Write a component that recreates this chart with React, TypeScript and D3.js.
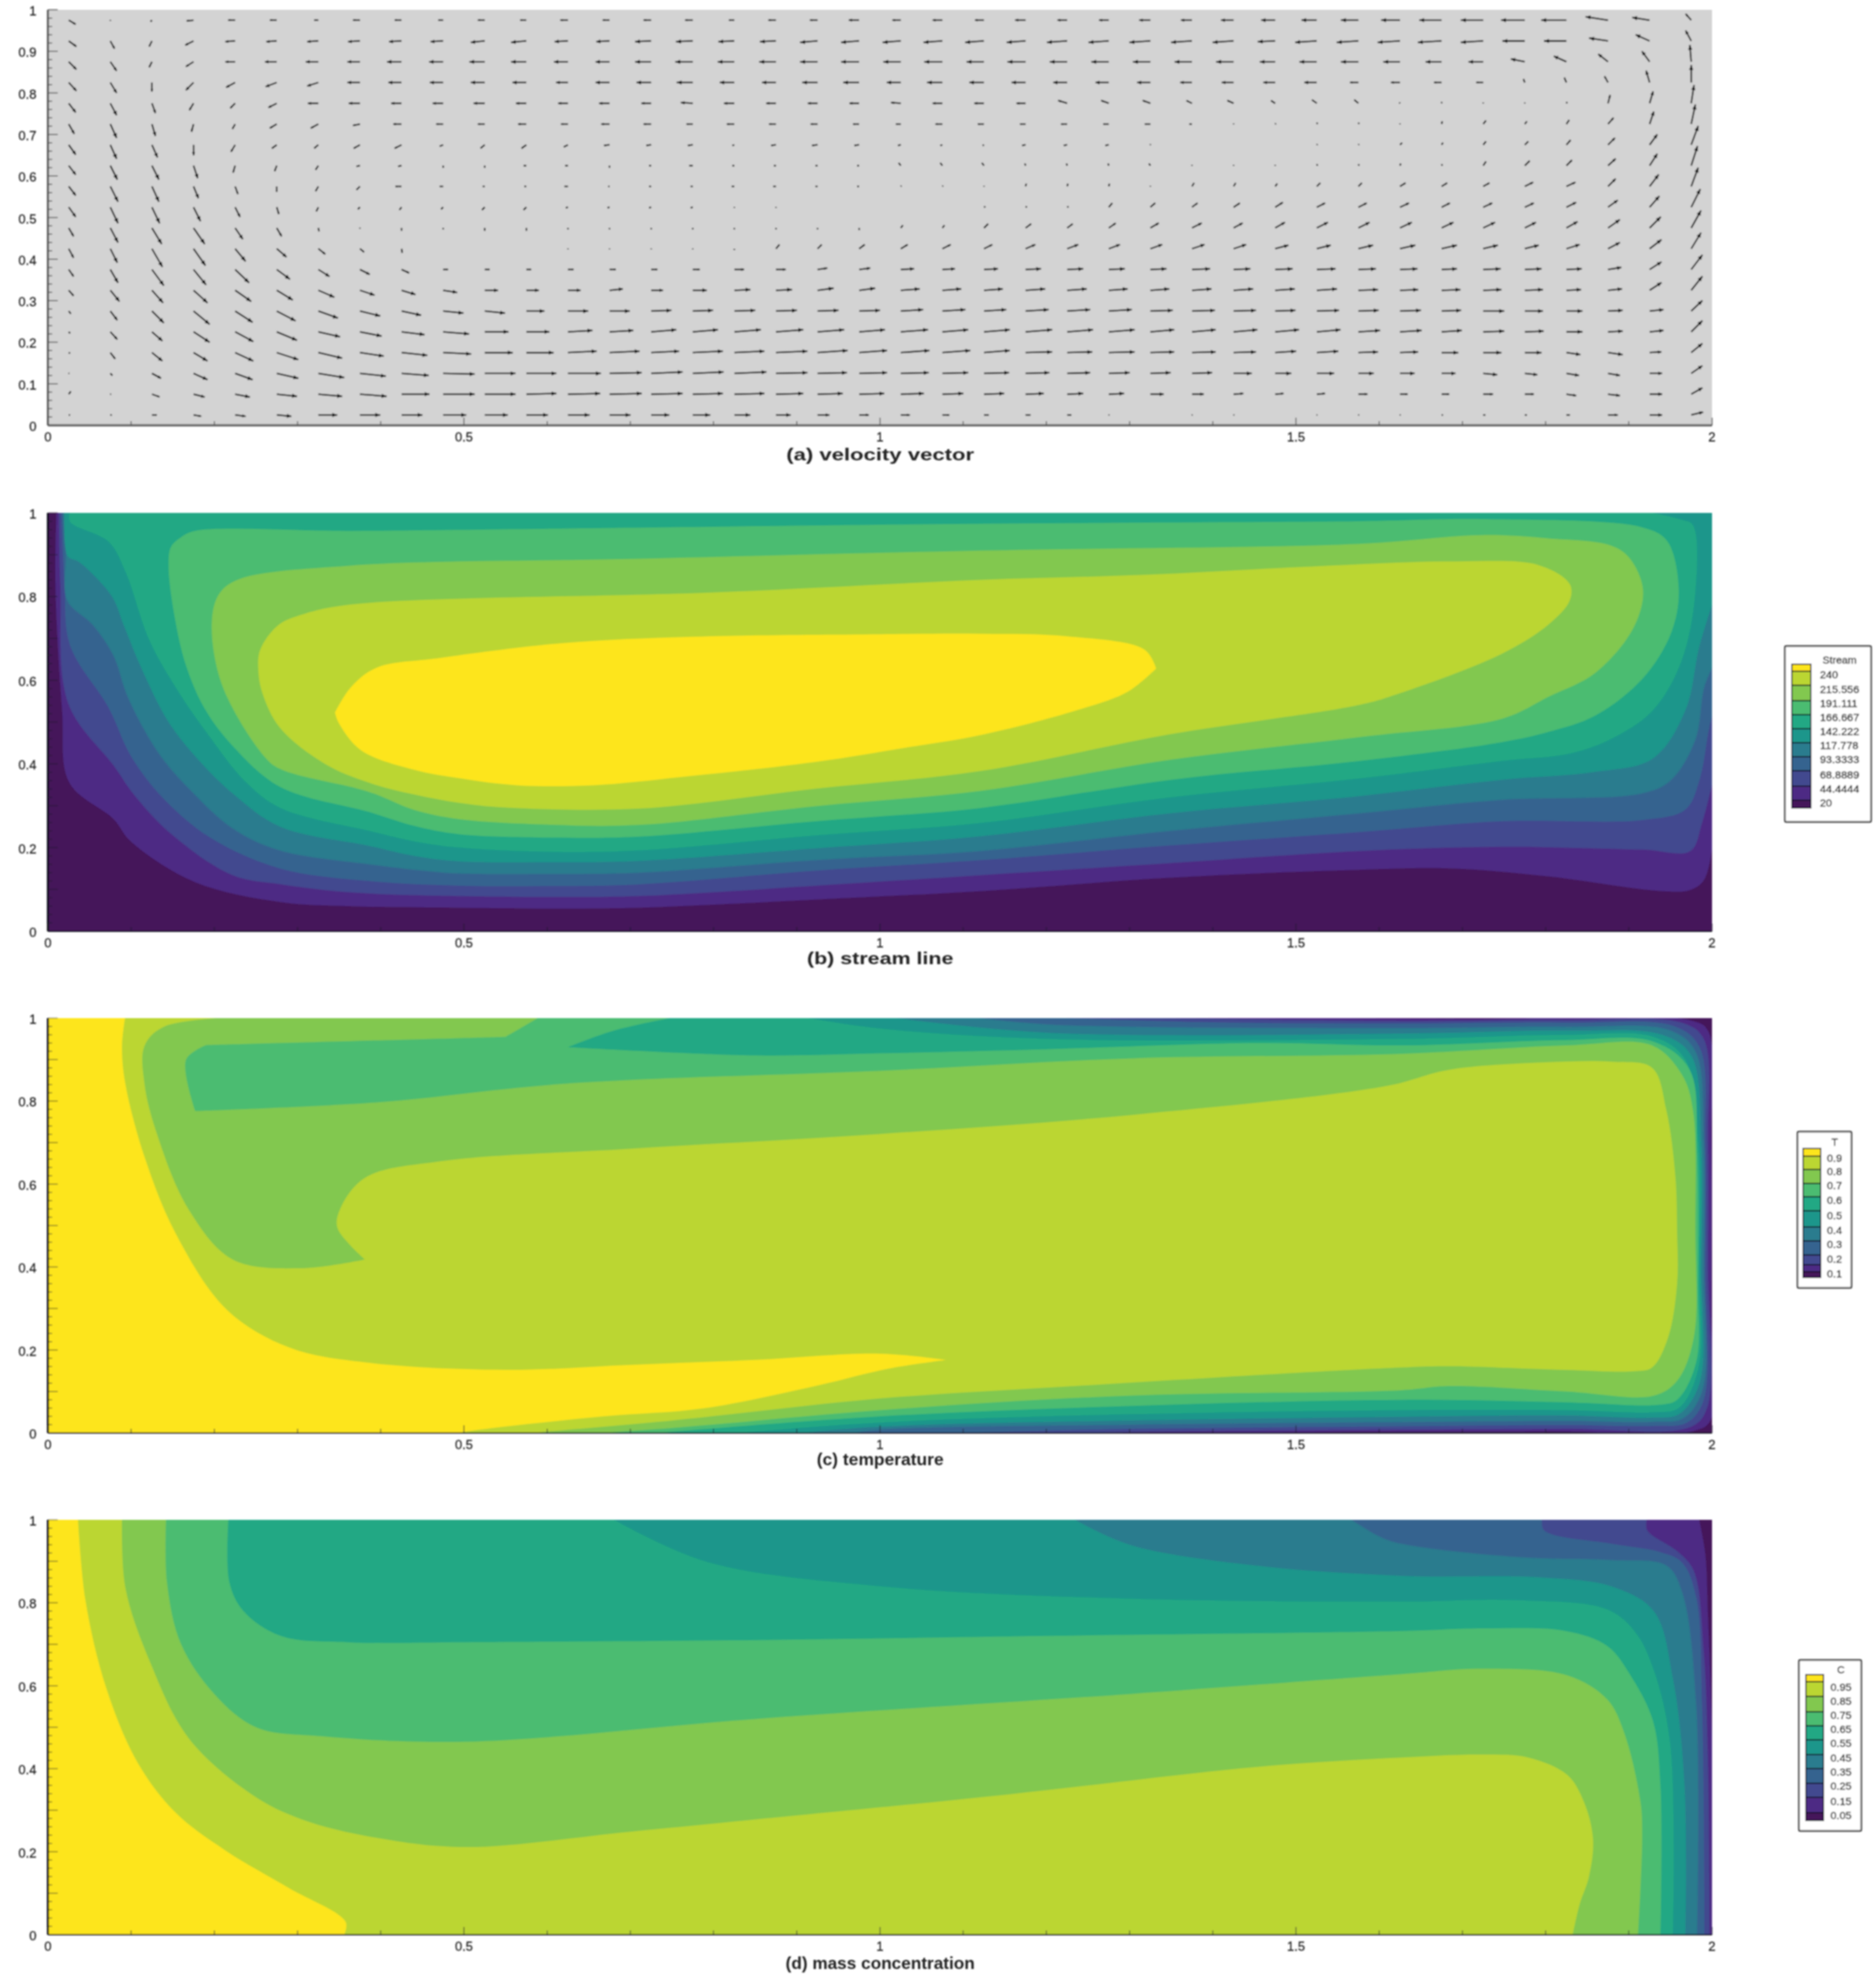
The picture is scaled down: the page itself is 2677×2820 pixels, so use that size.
import React from "react";
import * as d3 from "d3";

type P = [number, number];

const WIDTH = 2677;
const HEIGHT = 2820;

const bandColors = ["#45155a", "#4d2b84", "#42488f", "#36648f", "#2a7c8e", "#1f968b", "#20a884", "#4cbc71", "#82c84f", "#bbd633", "#fde51e"];

const xTickLabels = [0, 0.5, 1, 1.5, 2];
const yTicksDense = [0, 0.1, 0.2, 0.3, 0.4, 0.5, 0.6, 0.7, 0.8, 0.9, 1];
const yTicksSparse = [0, 0.2, 0.4, 0.6, 0.8, 1];

const streamLegend = ["240", "215.556", "191.111", "166.667", "142.222", "117.778", "93.3333", "68.8889", "44.4444", "20"];
const tempLegend = ["0.9", "0.8", "0.7", "0.6", "0.5", "0.4", "0.3", "0.2", "0.1"];
const concLegend = ["0.95", "0.85", "0.75", "0.65", "0.55", "0.45", "0.35", "0.25", "0.15", "0.05"];

// (a) velocity vectors: 20 rows (top to bottom) x 40 columns
const uRows: number[][] = [
  [10,0,-2,-10,-10,-10,-6,-10,-10,-7,-10,-9,-11,-10,-11,-11,-8,-11,-11,-15,-12,-14,-13,-15,-14,-14,-16,-16,-18,-20,-22,-25,-27,-32,-32,-34,-36,-32,-25,-8],
  [11,6,-4,-12,-14,-15,-16,-17,-18,-18,-20,-22,-19,-19,-23,-24,-23,-23,-25,-26,-26,-27,-27,-27,-29,-29,-30,-30,-30,-25,-31,-31,-32,-34,-32,-32,-32,-27,-20,-8],
  [11,9,-4,-11,-14,-17,-18,-18,-21,-20,-22,-22,-20,-20,-23,-25,-24,-24,-25,-26,-25,-26,-25,-26,-25,-25,-25,-25,-25,-22,-25,-25,-24,-23,-21,-20,-18,-14,-11,-2],
  [11,9,0,-11,-13,-16,-16,-18,-19,-19,-20,-20,-17,-20,-21,-23,-21,-20,-22,-23,-20,-22,-21,-20,-20,-19,-19,-17,-17,-17,-18,-12,-13,-11,-10,-2,-3,-5,-5,0],
  [10,9,5,-6,-7,-12,-15,-16,-15,-15,-16,-15,-14,-15,-14,-17,-15,-14,-14,-14,-14,-14,-14,-13,-13,-11,-11,-8,-9,-6,-7,-6,-1,0,0,0,1,3,5,4],
  [8,9,5,-3,-4,-10,-11,-10,-12,-10,-10,-12,-10,-12,-11,-9,-11,-10,-10,-9,-7,-10,-9,-8,-9,-8,-8,-4,0,1,1,1,0,1,4,3,4,8,6,6],
  [10,9,8,0,-6,-7,-6,-9,-10,-5,-6,-7,-6,-8,-7,-7,-3,-7,-8,-7,-4,-3,-2,-5,-5,-5,0,0,0,0,1,1,3,2,4,5,6,10,11,10],
  [10,10,10,6,-3,-3,-4,-5,-5,0,0,-4,-4,0,-3,-5,-3,-3,-3,-3,-3,-3,-3,-1,-1,-1,-2,0,0,0,1,1,1,1,4,7,8,11,11,9],
  [10,11,10,7,4,0,-4,-5,-9,-5,-3,-3,-5,-2,-3,-3,-4,-4,-3,-3,1,1,0,1,1,1,0,3,3,3,5,5,8,8,9,12,13,11,13,10],
  [10,11,11,10,7,3,-3,-3,-3,-3,-4,-4,-3,-3,-3,-3,0,0,0,0,0,0,2,2,2,5,7,8,9,11,12,12,13,12,13,13,14,14,14,13],
  [7,11,14,16,11,7,1,0,0,0,0,0,0,0,0,0,0,0,0,0,3,3,6,8,8,10,12,14,13,14,16,16,17,17,17,16,16,17,16,14],
  [7,10,15,17,15,14,10,6,1,0,0,0,0,0,0,0,0,5,6,8,10,12,12,14,16,16,17,18,18,19,20,21,22,22,21,20,19,17,17,14],
  [7,11,17,18,20,19,16,14,11,7,7,7,8,9,9,10,14,14,14,16,19,18,20,22,23,23,23,26,24,25,27,25,25,22,25,24,22,19,17,16],
  [7,13,16,20,23,23,23,21,20,20,19,18,18,19,17,20,23,23,23,23,27,27,27,28,28,27,27,28,28,28,29,28,26,27,26,26,21,20,17,16],
  [3,10,17,23,25,27,28,29,28,29,29,26,29,29,29,29,30,30,30,30,32,33,32,33,33,33,32,33,32,29,32,29,30,28,30,26,23,21,20,16],
  [2,10,15,23,26,29,31,31,33,37,34,33,35,34,36,36,38,39,38,37,39,37,37,38,37,37,34,34,34,34,34,31,31,29,30,27,23,21,20,16],
  [2,7,15,20,26,31,34,34,37,40,40,39,41,43,40,43,43,45,43,40,41,40,37,38,36,37,34,34,32,30,31,28,26,24,26,24,20,21,17,16],
  [1,3,13,20,25,31,37,37,39,45,44,43,47,46,45,44,46,45,42,40,40,37,36,34,33,30,29,29,26,23,25,22,21,20,20,18,18,17,18,16],
  [3,1,11,16,21,29,34,38,40,45,44,43,46,46,45,43,43,39,36,36,33,30,29,26,23,22,19,17,14,12,12,13,11,11,14,13,14,17,18,16],
  [2,2,7,11,15,21,27,29,30,33,33,31,31,30,26,25,23,21,17,14,13,10,7,7,6,1,0,1,1,0,1,1,1,2,3,3,5,14,18,17],
];
const vRows: number[][] = [
  [-6,-1,-2,-1,0,0,0,0,0,0,0,0,0,0,0,0,0,0,0,0,0,0,0,0,0,0,0,0,0,0,0,0,0,0,0,0,0,5,4,9],
  [-8,-11,-8,-6,-1,-1,-1,-1,-1,-1,-2,-2,-1,-1,-1,-1,-1,-1,-2,-2,-2,-2,-2,-2,-2,-2,-2,-2,-2,-1,-2,-2,-2,-2,-2,0,0,4,9,15],
  [-11,-13,-8,-7,0,0,0,0,0,0,0,0,0,0,0,0,0,0,0,0,0,0,0,0,0,0,0,0,0,0,0,0,0,0,0,4,8,11,15,24],
  [-12,-15,-13,-11,-7,-6,-5,0,0,0,0,0,0,0,0,0,0,0,0,0,0,0,0,0,0,0,0,0,0,0,0,0,0,0,0,5,7,9,17,25],
  [-13,-17,-14,-10,-7,-6,0,0,0,0,0,0,0,0,0,1,0,0,0,0,1,0,0,0,4,4,4,4,4,4,5,5,1,2,1,1,2,12,17,26],
  [-14,-20,-17,-11,-7,-6,-6,-2,0,0,0,0,0,0,0,0,0,0,0,0,0,0,0,0,0,0,0,0,1,1,2,2,1,4,5,4,6,9,18,28],
  [-14,-20,-18,-15,-10,-5,-5,-5,-5,-2,-5,-5,-3,-1,-1,-1,-1,-1,-1,-1,-1,-1,-1,-1,-1,-1,1,0,0,0,1,1,3,3,5,5,7,10,15,27],
  [-13,-20,-20,-18,-10,-8,-6,-1,-1,-3,-3,0,0,-3,0,0,0,0,0,0,4,4,4,3,3,3,3,1,1,1,2,2,3,2,6,7,8,10,17,28],
  [-13,-22,-22,-17,-11,-8,-7,-5,0,0,0,0,0,0,0,0,0,0,0,0,1,1,1,4,4,4,1,5,5,4,5,5,5,5,5,6,6,11,17,27],
  [-14,-23,-23,-20,-14,-10,-6,-3,-4,-3,-4,-4,-1,-1,-1,-1,-1,-1,0,0,0,0,1,1,1,6,6,6,6,7,6,6,6,6,6,6,7,10,16,26],
  [-12,-21,-23,-23,-16,-12,-5,-1,-4,-2,-4,-4,-2,-2,-2,-2,-2,-2,-2,-3,4,4,6,6,6,7,7,7,7,8,8,8,8,8,8,8,9,12,16,25],
  [-13,-20,-26,-24,-18,-12,-8,-5,-6,0,0,0,-1,-1,-1,-1,-2,6,6,6,6,6,6,6,6,6,6,6,6,5,5,5,5,5,5,5,6,9,13,23],
  [-10,-19,-23,-22,-19,-14,-10,-7,-5,0,0,0,0,0,0,0,0,0,2,2,1,1,1,1,1,1,1,1,1,1,1,1,1,1,1,1,1,3,11,21],
  [-8,-16,-18,-18,-16,-14,-10,-7,-6,-3,0,0,0,2,0,0,1,1,3,3,2,2,2,2,2,2,2,2,2,2,2,1,1,1,1,1,1,2,11,20],
  [-4,-13,-17,-19,-16,-14,-10,-7,-6,-3,-3,0,0,0,1,1,1,1,1,1,2,2,2,2,2,2,1,1,1,1,1,1,1,1,0,0,0,1,2,15],
  [-2,-11,-13,-15,-14,-12,-7,-6,-4,-3,0,0,2,2,3,3,3,3,3,3,3,3,3,3,3,3,3,3,3,3,3,2,2,2,1,1,0,1,2,16],
  [-1,-9,-12,-12,-12,-10,-8,-5,-4,-2,0,0,2,2,2,2,2,2,3,3,3,3,3,1,1,1,1,1,1,2,2,1,1,0,0,0,-3,-3,1,13],
  [0,-3,-7,-9,-9,-7,-6,-4,-3,-1,0,0,0,1,2,2,2,1,1,1,1,1,1,1,1,1,1,1,0,0,0,0,0,0,-2,-2,-3,-3,0,11],
  [4,0,-4,-4,-4,-3,-3,-3,0,0,0,1,1,1,1,1,1,1,1,1,1,1,1,1,1,1,0,0,1,1,1,0,0,0,0,0,-2,-2,0,9],
  [0,0,0,-2,-2,-2,0,0,0,0,0,0,0,0,0,0,0,0,0,0,0,0,0,0,0,0,0,0,0,0,0,0,0,0,0,0,0,0,0,4],
];

// (b) stream function contours, lowest level first
const streamL1: P[] = [[0.0104,1],[0.009,0.83],[0.017,0.53],[0.0258,0.355],[0.079,0.268],[0.099,0.216],[0.175,0.119],[0.279,0.07],[0.364,0.06],[0.494,0.056],[0.6,0.054],[0.709,0.056],[0.923,0.076],[1.121,0.096],[1.349,0.128],[1.576,0.147],[1.69,0.15],[1.804,0.131],[1.94,0.096],[1.974,0.099],[1.991,0.125],[2,0.28],[2,1]];
const streamL2: P[] = [[0.0132,1],[0.015,0.83],[0.0244,0.545],[0.079,0.396],[0.104,0.325],[0.149,0.231],[0.222,0.134],[0.281,0.112],[0.364,0.093],[0.494,0.084],[0.6,0.082],[0.709,0.084],[0.923,0.109],[1.121,0.134],[1.349,0.163],[1.576,0.192],[1.747,0.202],[1.917,0.195],[1.974,0.192],[1.988,0.259],[2,0.394],[2,1]];
const streamL3: P[] = [[0.016,1],[0.02,0.83],[0.0265,0.684],[0.073,0.534],[0.1,0.418],[0.139,0.317],[0.195,0.224],[0.279,0.15],[0.386,0.12],[0.494,0.109],[0.6,0.108],[0.709,0.112],[0.923,0.145],[1.121,0.17],[1.349,0.205],[1.576,0.237],[1.747,0.263],[1.917,0.266],[1.968,0.291],[1.985,0.362],[1.997,0.49],[2,0.55],[2,1]];
const streamL4: P[] = [[0.018,1],[0.0216,0.904],[0.023,0.792],[0.054,0.732],[0.079,0.658],[0.096,0.56],[0.133,0.426],[0.172,0.336],[0.222,0.246],[0.279,0.193],[0.386,0.16],[0.44,0.147],[0.494,0.138],[0.6,0.137],[0.709,0.14],[0.923,0.17],[1.121,0.192],[1.349,0.24],[1.576,0.282],[1.747,0.314],[1.917,0.33],[1.951,0.362],[1.98,0.458],[1.991,0.586],[2,0.65],[2,1]];
const streamL5: P[] = [[0.02,1],[0.0238,0.897],[0.038,0.882],[0.077,0.8],[0.091,0.732],[0.111,0.635],[0.145,0.5],[0.184,0.403],[0.223,0.328],[0.279,0.25],[0.386,0.204],[0.44,0.18],[0.494,0.167],[0.6,0.165],[0.709,0.168],[0.923,0.198],[1.121,0.227],[1.349,0.282],[1.576,0.323],[1.747,0.362],[1.86,0.381],[1.929,0.413],[1.968,0.528],[1.985,0.682],[2,0.811],[2,1]];
const streamL6: P[] = [[0.0265,1],[0.0265,0.979],[0.073,0.931],[0.093,0.86],[0.122,0.695],[0.156,0.575],[0.195,0.463],[0.237,0.358],[0.279,0.295],[0.386,0.24],[0.44,0.215],[0.494,0.2],[0.6,0.19],[0.709,0.193],[0.923,0.229],[1.121,0.259],[1.349,0.32],[1.576,0.365],[1.747,0.407],[1.832,0.426],[1.883,0.464],[1.929,0.528],[1.963,0.644],[1.98,0.811],[1.977,0.971],[1.963,0.984],[1.917,1]];
const streamL7: P[] = [[0.177,0.957],[0.16,0.942],[0.148,0.919],[0.145,0.874],[0.152,0.755],[0.166,0.635],[0.189,0.53],[0.223,0.441],[0.279,0.345],[0.386,0.285],[0.44,0.252],[0.494,0.232],[0.6,0.224],[0.709,0.226],[0.923,0.263],[1.122,0.295],[1.349,0.362],[1.576,0.407],[1.747,0.452],[1.804,0.477],[1.86,0.516],[1.917,0.605],[1.951,0.714],[1.96,0.817],[1.946,0.933],[1.917,0.965],[1.73,0.985],[1.576,0.98],[1.122,0.974],[0.6,0.962],[0.364,0.957]];
const streamL8: P[] = [[0.229,0.841],[0.206,0.807],[0.197,0.74],[0.209,0.59],[0.26,0.418],[0.279,0.388],[0.386,0.333],[0.44,0.29],[0.494,0.268],[0.6,0.255],[0.709,0.254],[0.923,0.299],[1.122,0.336],[1.349,0.41],[1.576,0.464],[1.749,0.509],[1.804,0.561],[1.86,0.618],[1.906,0.727],[1.917,0.817],[1.9,0.894],[1.877,0.923],[1.804,0.939],[1.724,0.947],[1.576,0.926],[1.122,0.91],[0.7,0.89],[0.364,0.874]];
const streamL9: P[] = [[0.277,0.732],[0.255,0.672],[0.253,0.62],[0.258,0.568],[0.279,0.486],[0.333,0.4],[0.386,0.355],[0.44,0.327],[0.494,0.307],[0.548,0.296],[0.709,0.293],[0.923,0.341],[1.121,0.383],[1.349,0.471],[1.576,0.541],[1.622,0.567],[1.747,0.663],[1.804,0.734],[1.829,0.791],[1.829,0.83],[1.792,0.875],[1.69,0.884],[1.52,0.872],[1.32,0.852],[1.122,0.84],[0.8,0.81],[0.364,0.781],[0.307,0.758]];
const streamL10: P[] = [[0.345,0.523],[0.345,0.523],[0.364,0.583],[0.395,0.63],[0.47,0.653],[0.62,0.689],[0.775,0.704],[1.0,0.71],[1.122,0.711],[1.224,0.705],[1.318,0.673],[1.332,0.628],[1.332,0.628],[1.298,0.573],[1.236,0.528],[1.121,0.469],[1.031,0.439],[0.923,0.405],[0.762,0.369],[0.655,0.349],[0.564,0.349],[0.494,0.366],[0.44,0.386],[0.376,0.433],[0.349,0.5]];
const streamContours = [streamL1, streamL2, streamL3, streamL4, streamL5, streamL6, streamL7, streamL8, streamL9, streamL10];

// (c) temperature contours, lowest level first
const tempL1: P[] = [[0,1],[1.23,1],[1.7,0.998],[1.975,0.994],[1.995,0.97],[1.999,0.7],[1.999,0.3],[1.998,0.03],[1.98,0.006],[1.8,0.004],[1.5,0.002],[1.2,0],[0,0]];
const tempL2: P[] = [[0,1],[1.18,1],[1.627,0.993],[1.824,0.995],[1.965,0.988],[1.99,0.95],[1.995,0.7],[1.995,0.4],[1.994,0.06],[1.975,0.015],[1.824,0.01],[1.627,0.008],[1.3,0.003],[1.1,0],[0,0]];
const tempL3: P[] = [[0,1],[1.15,1],[1.4,0.99],[1.627,0.987],[1.824,0.989],[1.955,0.98],[1.985,0.93],[1.992,0.7],[1.992,0.4],[1.99,0.08],[1.97,0.025],[1.93,0.017],[1.824,0.019],[1.627,0.016],[1.3,0.01],[1,0],[0,0]];
const tempL4: P[] = [[0,1],[1.1,1],[1.2,0.985],[1.627,0.976],[1.824,0.979],[1.95,0.97],[1.98,0.92],[1.99,0.7],[1.99,0.4],[1.988,0.1],[1.965,0.035],[1.93,0.027],[1.824,0.029],[1.627,0.026],[1.3,0.02],[1,0.008],[0.95,0],[0,0]];
const tempL5: P[] = [[0,1],[1,1],[1.2,0.965],[1.627,0.963],[1.824,0.97],[1.94,0.96],[1.975,0.91],[1.987,0.7],[1.987,0.4],[1.985,0.12],[1.96,0.045],[1.93,0.037],[1.824,0.042],[1.627,0.039],[1.3,0.03],[1,0.015],[0.88,0],[0,0]];
const tempL6: P[] = [[0,1],[0.9,1],[1,0.975],[1.2,0.95],[1.627,0.95],[1.824,0.96],[1.93,0.955],[1.968,0.9],[1.984,0.7],[1.985,0.4],[1.983,0.15],[1.96,0.06],[1.93,0.05],[1.824,0.055],[1.627,0.055],[1.3,0.045],[1,0.025],[0.8,0],[0,0]];
const tempL7: P[] = [[0,1],[0.76,1],[0.68,0.97],[0.625,0.93],[0.625,0.93],[0.85,0.91],[1,0.915],[1.2,0.925],[1.457,0.94],[1.627,0.934],[1.824,0.947],[1.93,0.943],[1.973,0.876],[1.982,0.682],[1.983,0.359],[1.981,0.171],[1.958,0.08],[1.936,0.068],[1.824,0.074],[1.627,0.08],[1.3,0.065],[1,0.04],[0.7,0],[0,0]];
const tempL8: P[] = [[0,1],[0.593,1],[0.55,0.955],[0.55,0.955],[0.19,0.935],[0.19,0.935],[0.166,0.9],[0.177,0.776],[0.177,0.776],[0.396,0.797],[0.623,0.842],[1.0,0.873],[1.305,0.903],[1.627,0.914],[1.824,0.934],[1.928,0.934],[1.964,0.863],[1.977,0.779],[1.98,0.488],[1.978,0.229],[1.958,0.126],[1.93,0.09],[1.824,0.1],[1.683,0.113],[1.627,0.103],[1.3,0.09],[1,0.055],[0.75,0.012],[0.62,0],[0,0]];
const tempL9: P[] = [[0,1],[0.252,1],[0.139,0.979],[0.116,0.933],[0.116,0.842],[0.131,0.721],[0.169,0.539],[0.222,0.418],[0.305,0.397],[0.381,0.418],[0.381,0.418],[0.348,0.494],[0.351,0.539],[0.381,0.615],[0.472,0.655],[0.699,0.685],[1.002,0.721],[1.305,0.767],[1.608,0.836],[1.683,0.875],[1.796,0.893],[1.88,0.895],[1.928,0.88],[1.945,0.779],[1.956,0.617],[1.958,0.488],[1.958,0.359],[1.947,0.229],[1.928,0.158],[1.908,0.149],[1.824,0.152],[1.683,0.161],[1.627,0.158],[1.5,0.145],[1.25,0.115],[1,0.083],[0.75,0.03],[0.55,0],[0,0]];
const tempL10: P[] = [[0,1],[0.093,1],[0.089,0.933],[0.093,0.842],[0.117,0.66],[0.154,0.479],[0.215,0.297],[0.29,0.206],[0.381,0.17],[0.55,0.152],[0.699,0.164],[0.85,0.176],[1.0,0.191],[1.08,0.176],[1.08,0.176],[1.01,0.155],[0.926,0.115],[0.79,0.06],[0.668,0.04],[0.548,0.015],[0.472,0],[0,0]];
const tempContours = [tempL1, tempL2, tempL3, tempL4, tempL5, tempL6, tempL7, tempL8, tempL9, tempL10];

// (d) mass concentration contours, lowest level first
const concL1: P[] = [[0,1],[1.984,1],[1.992,0.916],[1.995,0.774],[1.999,0.554],[2,0],[0,0]];
const concL2: P[] = [[0,1],[1.922,1],[1.922,0.975],[1.959,0.923],[1.978,0.877],[1.99,0.683],[1.995,0.424],[1.997,0],[0,0]];
const concL3: P[] = [[0,1],[1.796,1],[1.798,0.975],[1.88,0.942],[1.936,0.923],[1.964,0.897],[1.981,0.813],[1.988,0.554],[1.991,0],[0,0]];
const concL4: P[] = [[0,1],[1.563,1],[1.6,0.96],[1.627,0.942],[1.768,0.91],[1.88,0.903],[1.945,0.89],[1.964,0.826],[1.981,0.554],[1.982,0],[0,0]];
const concL5: P[] = [[0,1],[1.23,1],[1.3,0.94],[1.45,0.89],[1.627,0.865],[1.796,0.861],[1.88,0.839],[1.93,0.78],[1.953,0.618],[1.967,0.359],[1.968,0],[0,0]];
const concL6: P[] = [[0,1],[0.676,1],[0.79,0.9],[1,0.84],[1.3,0.81],[1.627,0.803],[1.768,0.806],[1.874,0.784],[1.908,0.729],[1.93,0.638],[1.95,0.456],[1.953,0],[0,0]];
const concL7: P[] = [[0,1],[0.217,1],[0.218,0.85],[0.235,0.78],[0.28,0.72],[0.36,0.705],[0.5,0.705],[0.85,0.71],[1.2,0.72],[1.627,0.732],[1.725,0.738],[1.824,0.732],[1.874,0.696],[1.902,0.625],[1.929,0.515],[1.938,0.359],[1.938,0],[0,0]];
const concL8: P[] = [[0,1],[0.142,1],[0.143,0.85],[0.16,0.7],[0.2,0.58],[0.25,0.5],[0.33,0.478],[0.502,0.465],[0.851,0.52],[1.3,0.58],[1.627,0.628],[1.725,0.641],[1.826,0.625],[1.874,0.567],[1.894,0.489],[1.914,0.32],[1.916,0.23],[1.911,0],[0,0]];
const concL9: P[] = [[0,1],[0.089,1],[0.093,0.837],[0.123,0.656],[0.169,0.474],[0.245,0.338],[0.305,0.278],[0.396,0.233],[0.502,0.211],[0.699,0.248],[0.851,0.278],[1.154,0.338],[1.457,0.405],[1.627,0.427],[1.725,0.434],[1.779,0.427],[1.826,0.385],[1.846,0.32],[1.857,0.23],[1.852,0.139],[1.841,0.074],[1.832,0],[0,0]];
const concL10: P[] = [[0,1],[0.036,1],[0.045,0.807],[0.07,0.595],[0.108,0.414],[0.154,0.293],[0.214,0.202],[0.29,0.112],[0.358,0.03],[0.355,0],[0,0]];
const concContours = [concL1, concL2, concL3, concL4, concL5, concL6, concL7, concL8, concL9, concL10];

const xScale = d3.scaleLinear().domain([0, 2]).range([68.4, 2443]);
const arrowScale = d3.scaleLinear().domain([-50, 50]).range([-50, 50]);
const FONT = "'Liberation Sans', Arial, sans-serif";

function Axes({ y, labels, strong }: { y: d3.ScaleLinear<number, number>; labels: number[]; strong: boolean }) {
  const color = strong ? "#5a5a5a" : "#1c1c2a";
  const [bottom, top] = y.range();
  const xMinor = d3.range(0, 21).map((i) => i / 10);
  const yMinor = d3.range(0, 51).map((i) => i / 50);
  return (
    <g>
      <line x1={xScale(0)} x2={xScale(2)} y1={bottom} y2={bottom} stroke={color} strokeWidth={strong ? 3 : 2} />
      <line x1={xScale(0)} x2={xScale(0)} y1={top} y2={bottom} stroke={strong ? color : "#10101c"} strokeWidth={3} />
      {xMinor.map((v, i) => (
        <line key={i} x1={xScale(v)} x2={xScale(v)} y1={bottom} y2={bottom - (i % 5 === 0 ? 11 : 6)} stroke={color} strokeWidth={1.5} opacity={strong ? 1 : 0.6} />
      ))}
      {yMinor.map((v, i) => (
        <line key={i} x1={xScale(0)} x2={xScale(0) + (i % 5 === 0 ? 14 : 6)} y1={y(v)} y2={y(v)} stroke={color} strokeWidth={1.5} opacity={strong ? 1 : 0.5} />
      ))}
      {xTickLabels.map((v) => (
        <text key={v} x={xScale(v)} y={bottom + 23} textAnchor="middle" fontSize={18.5} fontFamily={FONT} fill="#222" stroke="#222" strokeWidth={0.3}>{v}</text>
      ))}
      {labels.map((v) => (
        <text key={v} x={52} y={y(v) + 8} textAnchor="end" fontSize={18.5} fontFamily={FONT} fill="#222" stroke="#222" strokeWidth={0.3}>{v}</text>
      ))}
    </g>
  );
}

// Points on a wall sit just past it and are doubled, so the smoothed edge meets the wall without bulging.
function pastWall(c: P[]): P[] {
  return c.flatMap((d) => {
    const onWall = d[0] <= 0 || d[0] >= 2 || d[1] <= 0 || d[1] >= 1;
    if (!onWall) return [d];
    const x = d[0] <= 0 ? -0.005 : d[0] >= 2 ? 2.005 : d[0];
    const y = d[1] <= 0 ? -0.005 : d[1] >= 1 ? 1.005 : d[1];
    const q: P = [x, y];
    return [q, q];
  });
}

function Contours({ id, y, contours }: { id: string; y: d3.ScaleLinear<number, number>; contours: P[][] }) {
  const line = d3.line<P>().x((d) => xScale(d[0])).y((d) => y(d[1])).curve(d3.curveCatmullRomClosed.alpha(0.5));
  const [bottom, top] = y.range();
  return (
    <g>
      <clipPath id={id}>
        <rect x={xScale(0)} y={top} width={xScale(2) - xScale(0)} height={bottom - top} />
      </clipPath>
      <g clipPath={`url(#${id})`}>
        <rect x={xScale(0)} y={top} width={xScale(2) - xScale(0)} height={bottom - top} fill={bandColors[0]} />
        {contours.map((c, i) => (
          <path key={i} d={line(pastWall(c)) || ""} fill={bandColors[i + 1]} />
        ))}
      </g>
    </g>
  );
}

function Vectors({ y }: { y: d3.ScaleLinear<number, number> }) {
  const [bottom, top] = y.range();
  return (
    <g>
      <rect x={xScale(0)} y={top} width={xScale(2) - xScale(0)} height={bottom - top} fill="#d3d3d3" />
      {uRows.map((row, r) =>
        row.map((u, c) => {
          const v = vRows[r][c];
          const x0 = xScale((c + 0.5) * 0.05);
          const y0 = y(1 - (r + 0.5) * 0.05);
          const dx = arrowScale(u);
          const dy = -arrowScale(v);
          const len = Math.hypot(dx, dy);
          if (len < 0.5) return null;
          const ux = dx / len;
          const uy = dy / len;
          const h = Math.min(7, Math.max(1.5, len * 0.3));
          const w = Math.min(3, h * 0.5);
          const tx = x0 + dx;
          const ty = y0 + dy;
          const pts = `${tx},${ty} ${tx - ux * h - uy * w},${ty - uy * h + ux * w} ${tx - ux * h + uy * w},${ty - uy * h - ux * w}`;
          return (
            <g key={`${r}-${c}`}>
              <line x1={x0} y1={y0} x2={tx} y2={ty} stroke="#1a1a1a" strokeWidth={2.3} />
              <polygon points={pts} fill="#000" />
            </g>
          );
        })
      )}
    </g>
  );
}

function Legend({ title, labels, box, swatch, labelX, titleX, titleY, labelYs, segYs }: {
  title: string; labels: string[]; box: number[]; swatch: number[]; labelX: number; titleX: number; titleY: number; labelYs: number[]; segYs: number[];
}) {
  const colors = [...bandColors].reverse();
  return (
    <g>
      <rect x={box[0]} y={box[1]} width={box[2] - box[0]} height={box[3] - box[1]} fill="#fff" stroke="#444" strokeWidth={2.4} rx={2} />
      {colors.map((c, i) => (
        <rect key={c} x={swatch[0]} y={segYs[i]} width={swatch[1] - swatch[0]} height={segYs[i + 1] - segYs[i]} fill={c} stroke="#15152a" strokeWidth={1.8} />
      ))}
      <text x={titleX} y={titleY + 5} textAnchor="middle" fontSize={15} fontFamily={FONT} fill="#111" stroke="#111" strokeWidth={0.3}>{title}</text>
      {labels.map((l, i) => (
        <text key={l} x={labelX} y={labelYs[i] + 5.5} fontSize={15.5} fontFamily={FONT} fill="#111" stroke="#111" strokeWidth={0.35}>{l}</text>
      ))}
    </g>
  );
}

const yA = d3.scaleLinear().domain([0, 1]).range([607, 14]);
const yB = d3.scaleLinear().domain([0, 1]).range([1329, 732]);
const yC = d3.scaleLinear().domain([0, 1]).range([2045, 1453]);
const yD = d3.scaleLinear().domain([0, 1]).range([2761, 2169]);

function Title({ text, y, width }: { text: string; y: number; width: number }) {
  return (
    <text x={1256} y={y} textAnchor="middle" fontSize={24} fontWeight="bold" fontFamily={FONT} fill="#222" textLength={width} lengthAdjust="spacingAndGlyphs">{text}</text>
  );
}

export default function App() {
  return (
    <svg width={WIDTH} height={HEIGHT} viewBox={`0 0 ${WIDTH} ${HEIGHT}`} style={{ position: "absolute", left: 0, top: 0, background: "#fff" }}>
      <defs>
        <filter id="soft" filterUnits="userSpaceOnUse" x={0} y={0} width={WIDTH} height={HEIGHT}>
          <feGaussianBlur stdDeviation={0.8} />
        </filter>
      </defs>
      <g filter="url(#soft)">
        <Vectors y={yA} />
        <Axes y={yA} labels={yTicksDense} strong />
        <Title text="(a) velocity vector" y={657} width={268} />

        <Contours id="cb" y={yB} contours={streamContours} />
        <Axes y={yB} labels={yTicksSparse} strong={false} />
        <Title text="(b) stream line" y={1376} width={209} />

        <Contours id="cc" y={yC} contours={tempContours} />
        <Axes y={yC} labels={yTicksSparse} strong={false} />
        <Title text="(c) temperature" y={2091} width={181} />

        <Contours id="cd" y={yD} contours={concContours} />
        <Axes y={yD} labels={yTicksSparse} strong={false} />
        <Title text="(d) mass concentration" y={2810} width={270} />

        <Legend title="Stream" labels={streamLegend} box={[2547, 922, 2670, 1173]} swatch={[2557, 2584]} labelX={2597} titleX={2625} titleY={942}
          labelYs={[962, 983, 1003, 1023, 1043, 1063, 1083, 1105, 1125, 1145]}
          segYs={[948, 958, 978, 1000, 1020, 1040, 1060, 1080, 1100, 1122, 1142, 1153]} />
        <Legend title="T" labels={tempLegend} box={[2565, 1615, 2642, 1838]} swatch={[2573, 2598]} labelX={2607} titleX={2618} titleY={1630}
          labelYs={[1652, 1671, 1691, 1712, 1734, 1755, 1775, 1796, 1817]}
          segYs={[1639, 1650, 1669, 1689, 1708, 1728, 1751, 1771, 1791, 1805, 1815, 1823]} />
        <Legend title="C" labels={concLegend} box={[2567, 2369, 2656, 2613]} swatch={[2577, 2602]} labelX={2612} titleX={2627} titleY={2383}
          labelYs={[2407, 2427, 2447, 2467, 2487, 2508, 2528, 2548, 2570, 2590]}
          segYs={[2390, 2400, 2421, 2443, 2463, 2483, 2504, 2524, 2545, 2565, 2587, 2598]} />
      </g>
    </svg>
  );
}
